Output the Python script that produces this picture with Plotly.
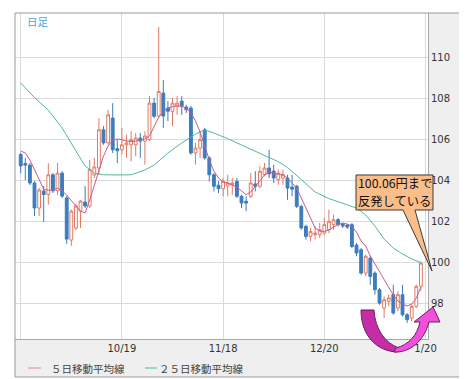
import plotly.graph_objects as go

# ---------------- data ----------------
open_ = [105.27, 104.83, 104.75, 103.88, 102.66, 103.49, 103.32, 104.28, 103.50, 104.36,
         103.15, 101.10, 101.69, 102.51, 102.95, 102.76, 104.27, 104.61, 106.47, 105.83,
         107.04, 105.55, 105.50, 105.74, 105.74, 105.74, 106.07, 105.92, 105.99, 107.77,
         107.14, 108.26, 107.53, 107.37, 107.63, 107.87, 107.58, 107.53, 105.34, 105.58,
         106.47, 105.10, 104.28, 103.77, 103.60, 103.73, 103.79, 103.96, 103.23, 102.99,
         103.23, 103.83, 103.72, 104.28, 104.61, 104.46, 104.04, 104.12, 104.12, 103.68,
         103.72, 102.74, 101.77, 101.28, 101.36, 101.36, 101.44, 101.60, 101.85, 102.09,
         101.88, 101.83, 101.85, 100.86, 100.63, 99.49, 100.22, 99.49, 98.68, 97.79,
         98.11, 98.44, 97.79, 98.44, 97.46, 97.30, 97.87, 98.85]
high = [105.34, 105.10, 104.85, 103.97, 103.63, 103.73, 104.85, 104.36, 104.85, 104.46,
        103.24, 102.58, 102.85, 103.05, 103.73, 105.01, 105.10, 107.04, 106.65, 107.45,
        107.77, 105.99, 106.56, 106.23, 106.40, 106.31, 106.31, 106.40, 108.11, 108.02,
        111.48, 108.89, 107.87, 108.02, 108.11, 108.11, 107.69, 107.63, 105.83, 106.40,
        106.56, 105.18, 104.36, 103.96, 104.12, 104.28, 104.12, 104.12, 103.31, 103.23,
        104.36, 104.45, 104.69, 104.85, 105.50, 104.77, 104.53, 104.53, 104.28, 104.28,
        103.79, 102.82, 101.85, 101.69, 101.77, 101.93, 102.17, 102.58, 102.33, 102.17,
        101.93, 101.88, 101.93, 100.95, 100.71, 100.39, 100.31, 99.58, 98.76, 98.36,
        98.44, 98.92, 98.60, 98.92, 97.54, 97.95, 98.92, 100.06]
low = [104.36, 104.02, 103.78, 102.27, 102.27, 101.98, 102.82, 103.39, 103.31, 103.15,
       100.91, 100.81, 101.59, 101.69, 102.66, 102.66, 104.12, 104.28, 105.74, 105.74,
       105.34, 104.85, 105.26, 105.10, 104.93, 105.18, 105.10, 104.77, 105.92, 107.04,
       107.04, 106.56, 106.90, 106.65, 107.20, 107.20, 107.29, 105.26, 104.77, 105.10,
       105.01, 103.96, 103.47, 103.39, 103.23, 103.23, 103.31, 103.15, 102.66, 102.50,
       103.15, 103.47, 103.63, 104.20, 104.12, 103.88, 103.79, 103.79, 103.06, 103.23,
       102.66, 101.60, 101.12, 101.04, 101.12, 101.20, 101.36, 101.44, 101.60, 101.77,
       101.69, 101.64, 100.71, 100.31, 99.41, 99.33, 98.92, 98.44, 97.95, 97.30,
       97.87, 97.46, 97.63, 97.38, 97.06, 97.14, 97.79, 98.62]
close = [104.71, 104.75, 103.88, 102.66, 103.54, 103.32, 104.28, 103.50, 104.36, 103.24,
         101.15, 102.51, 102.76, 103.00, 102.76, 104.53, 104.66, 106.47, 105.83, 107.20,
         105.50, 105.45, 105.74, 105.83, 105.99, 106.07, 105.92, 106.17, 107.77, 107.13,
         108.34, 107.14, 107.38, 107.77, 107.77, 107.63, 107.45, 105.34, 105.58, 105.99,
         105.10, 104.28, 103.72, 103.60, 103.96, 103.88, 103.88, 103.23, 102.90, 102.90,
         103.88, 103.72, 104.45, 104.61, 104.32, 104.12, 104.36, 104.28, 103.63, 103.58,
         102.74, 101.69, 101.28, 101.52, 101.44, 101.60, 101.85, 102.01, 102.09, 101.85,
         101.78, 101.73, 100.79, 100.47, 99.49, 100.31, 99.33, 98.68, 98.03, 98.19,
         98.28, 97.55, 98.44, 97.46, 97.22, 97.87, 98.85, 99.98]
ma5 = [105.44, 105.34, 105.00, 104.51, 104.02, 103.58, 103.53, 103.53, 103.63, 103.49,
       103.29, 103.05, 102.76, 102.51, 102.42, 103.05, 103.73, 104.46, 105.19, 105.68,
       105.97, 106.02, 105.99, 105.92, 105.90, 105.92, 105.97, 106.02, 106.17, 106.65,
       107.09, 107.34, 107.53, 107.60, 107.63, 107.61, 107.53, 107.29, 106.90, 106.36,
       105.68, 105.00, 104.46, 104.12, 103.93, 103.88, 103.78, 103.68, 103.49, 103.31,
       103.44, 103.73, 103.97, 104.27, 104.41, 104.36, 104.32, 104.28, 104.12, 103.88,
       103.63, 103.15, 102.66, 102.17, 101.69, 101.54, 101.52, 101.59, 101.73, 101.86,
       101.93, 101.88, 101.77, 101.49, 101.05, 100.81, 100.32, 99.93, 99.54, 99.15,
       98.76, 98.42, 98.13, 97.98, 97.89, 97.98, 98.28, 98.81]
ma25_idx = [0, 3, 6, 9, 12, 14, 16, 18, 21, 24, 27, 29, 32, 35, 38, 40, 42, 45, 48, 51,
            54, 56, 58, 61, 64, 67, 70, 73, 75, 77, 79, 81, 83, 85, 87]
ma25 = [108.75, 108.04, 107.43, 106.56, 105.44, 104.71, 104.36, 104.28, 104.27, 104.28,
        104.51, 104.75, 105.34, 105.83, 106.26, 106.47, 106.31, 106.04, 105.73, 105.41,
        105.12, 104.92, 104.63, 104.05, 103.44, 103.12, 102.90, 102.66, 102.32, 101.78,
        101.15, 100.71, 100.42, 100.18, 100.00]
tick_idx = [0, 22, 44, 66, 88]
tick_text = ["", "10/19", "11/18", "12/20", "1/20"]
y_ticks = [98, 100, 102, 104, 106, 108, 110]
legend_names = ["５日移動平均線", "２５日移動平均線"]
callout_lines = ["100.06円まで", "反発している"]

# ---------------- styling ----------------
C_UP = "#e27a64"
C_DN = "#3c7dbd"
C_MA5 = "#c95a8e"
C_MA25 = "#4fbb96"
GRID = "#dadada"
JP = "Noto Sans CJK JP"
LAT = "DejaVu Sans"

W, H = 467, 379
L, R, T, B = 7, 420, 5, 331   # plot area in pixels


def px(x):
    return (x - L) / (R - L)


def py(y):
    return (B - y) / (B - T)


def path(cmds):
    out = []
    for c in cmds:
        op, nums = c[0], c[1:]
        pts = []
        for k in range(0, len(nums), 2):
            pts.append(f"{px(nums[k]):.5f},{py(nums[k+1]):.5f}")
        out.append(op + " " + " ".join(pts))
    return " ".join(out) + " Z"


x = list(range(len(close)))

fig = go.Figure()
fig.add_trace(go.Candlestick(
    x=x, open=open_, high=high, low=low, close=close,
    increasing=dict(line=dict(color=C_UP, width=1), fillcolor="white"),
    decreasing=dict(line=dict(color=C_DN, width=1), fillcolor=C_DN),
    whiskerwidth=0, showlegend=False, hoverinfo="skip"))
fig.add_trace(go.Scatter(x=ma25_idx, y=ma25, mode="lines",
                         line=dict(color=C_MA25, width=1), showlegend=False, hoverinfo="skip"))
fig.add_trace(go.Scatter(x=x, y=ma5, mode="lines",
                         line=dict(color=C_MA5, width=1), showlegend=False, hoverinfo="skip"))

shapes = []
# gray right panel and bottom band
shapes.append(dict(type="rect", xref="paper", yref="paper", x0=px(R), x1=px(457), y0=py(369), y1=py(T),
                   fillcolor="#efefef", line=dict(width=0), layer="below"))
shapes.append(dict(type="rect", xref="paper", yref="paper", x0=px(L), x1=px(R), y0=py(369), y1=py(B),
                   fillcolor="#efefef", line=dict(width=0), layer="below"))
# outer frame
shapes.append(dict(type="rect", xref="paper", yref="paper", x0=px(7), x1=px(457), y0=py(369), y1=py(5),
                   fillcolor="rgba(0,0,0,0)", line=dict(color="#9a9a9a", width=1), layer="above"))
# callout box with pointer
shapes.append(dict(type="path", xref="paper", yref="paper", layer="above",
                   path=path([("M", 348, 167), ("L", 425, 167), ("L", 425, 202), ("L", 407, 202),
                              ("L", 424, 263), ("L", 395, 202), ("L", 348, 202)]),
                   fillcolor="#fbbd8a", line=dict(color="#3a3a3a", width=1)))
# curved magenta arrow: left arm (darker) and right arm with head (lighter)
shapes.append(dict(type="path", xref="paper", yref="paper", layer="above",
                   path=path([("M", 353, 302), ("L", 366, 302), ("C", 367, 321, 377, 335, 391, 340),
                              ("L", 389, 344), ("C", 368, 343, 353, 327, 353, 302)]),
                   fillcolor="#c52ca6", line=dict(color="#6a2060", width=1)))
shapes.append(dict(type="path", xref="paper", yref="paper", layer="above",
                   path=path([("M", 386, 344), ("C", 402, 345, 416, 333, 421, 314), ("L", 432, 314),
                              ("L", 425, 299), ("L", 406, 314), ("L", 412, 314),
                              ("C", 409, 328, 400, 337, 388, 340)]),
                   fillcolor="#f24fdc", line=dict(color="#6a2060", width=1)))
# manual legend samples
shapes.append(dict(type="line", xref="paper", yref="paper", x0=px(20), x1=px(33), y0=py(360), y1=py(360),
                   line=dict(color="#d98a9e", width=1)))
shapes.append(dict(type="line", xref="paper", yref="paper", x0=px(137), x1=px(149), y0=py(360), y1=py(360),
                   line=dict(color=C_MA25, width=1)))

annotations = [
    dict(text="日足", xref="paper", yref="paper", x=px(17), y=py(13.5), xanchor="left", yanchor="middle",
         showarrow=False, font=dict(family=JP, size=10.5, color="#4aa6da")),
    dict(text=callout_lines[0], xref="paper", yref="paper", x=px(348), y=py(175), xanchor="left",
         yanchor="middle", showarrow=False, font=dict(family=JP, size=12.3, color="#111")),
    dict(text=callout_lines[1], xref="paper", yref="paper", x=px(348), y=py(193), xanchor="left",
         yanchor="middle", showarrow=False, font=dict(family=JP, size=12.3, color="#111")),
    dict(text=legend_names[0], xref="paper", yref="paper", x=px(41), y=py(360), xanchor="left",
         yanchor="middle", showarrow=False, font=dict(family=JP, size=10.5, color="#444")),
    dict(text=legend_names[1], xref="paper", yref="paper", x=px(149), y=py(360), xanchor="left",
         yanchor="middle", showarrow=False, font=dict(family=JP, size=10.5, color="#444")),
]

fig.update_layout(
    width=W, height=H,
    margin=dict(l=L, r=W - R, t=T, b=H - B, pad=0, autoexpand=False),
    paper_bgcolor="white", plot_bgcolor="white",
    showlegend=False, hovermode=False, boxgap=0.12,
    shapes=shapes, annotations=annotations,
    xaxis=dict(range=[-1.24, 88.54], tickmode="array", tickvals=tick_idx, ticktext=tick_text,
               showgrid=True, gridcolor=GRID, gridwidth=1, zeroline=False,
               showline=True, linecolor="#a8a8a8", linewidth=1, ticks="",
               tickfont=dict(family=LAT, size=10, color="#333"),
               rangeslider=dict(visible=False), automargin=False, fixedrange=True),
    yaxis=dict(side="right", range=[96.28, 112.16], tickmode="array", tickvals=y_ticks,
               showgrid=True, gridcolor=GRID, gridwidth=1, zeroline=False,
               showline=True, linecolor="#a8a8a8", linewidth=1, ticks="",
               tickfont=dict(family=LAT, size=10, color="#333"),
               automargin=False, fixedrange=True),
)

fig.write_html("out.html")
